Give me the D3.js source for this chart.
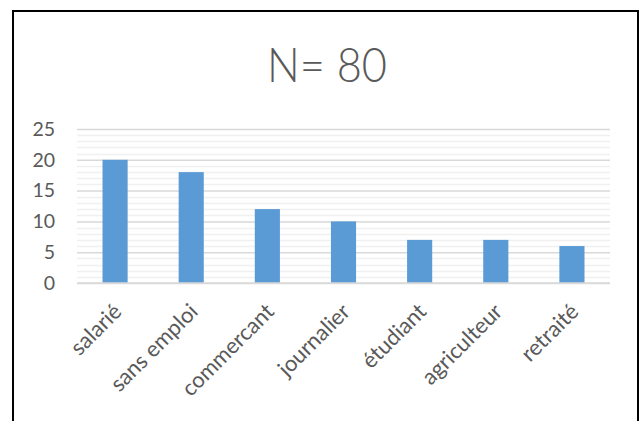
<!DOCTYPE html>
<html>
<head>
<meta charset="utf-8">
<script src="https://cdn.jsdelivr.net/npm/d3@7"></script>
<style>
  html, body { margin: 0; padding: 0; background: #fff; }
  svg { display: block; }
  text { font-family: Lato, "Open Sans", sans-serif; fill: #595959; }
</style>
</head>
<body>
<svg id="chart" width="640" height="421"></svg>
<script>
// Occupation counts, total N = 80
const categories = ["salarié", "sans emploi", "commercant", "journalier", "étudiant", "agriculteur", "retraité"];
const counts = [20, 18, 12, 10, 7, 7, 6];
const yTicks = [0, 5, 10, 15, 20, 25];
const titleText = "N= 80";

const svg = d3.select("#chart");
const W = 640, H = 421;

// Chart frame (open at the bottom edge of the window)
svg.append("path")
  .attr("d", `M13,${H + 2} L13,11 L638,11 L638,${H + 2}`)
  .attr("fill", "none")
  .attr("stroke", "#000")
  .attr("stroke-width", 2);

const plot = { left: 77, right: 610, top: 129, bottom: 283 };

const x = d3.scaleBand()
  .domain(categories)
  .range([plot.left, plot.right])
  .paddingInner(0.67)
  .paddingOuter(0.335);

const y = d3.scaleLinear()
  .domain([0, 25])
  .range([plot.bottom, plot.top]);

// Minor gridlines every unit
svg.append("g")
  .selectAll("line")
  .data(d3.range(0, 26).filter(v => v % 5 !== 0))
  .join("line")
  .attr("x1", plot.left).attr("x2", plot.right)
  .attr("y1", d => Math.round(y(d)) + 0.5)
  .attr("y2", d => Math.round(y(d)) + 0.5)
  .attr("stroke", "#f0f0f0")
  .attr("stroke-width", 1.5);

// Major gridlines and value labels
const yAxis = d3.axisLeft(y).tickValues(yTicks).tickSize(plot.left - plot.right).tickPadding(22);
const gy = svg.append("g")
  .attr("transform", `translate(${plot.left},0)`)
  .call(yAxis);
gy.select(".domain").remove();
gy.selectAll(".tick line")
  .attr("stroke", "#d9d9d9")
  .attr("stroke-width", 1.5);
gy.selectAll(".tick text")
  .attr("font-size", 19.5)
  .attr("fill", "#595959")
  .style("font-family", "Lato, 'Open Sans', sans-serif");

// Bars
svg.append("g")
  .selectAll("rect")
  .data(categories.map((c, i) => ({ c, v: counts[i] })))
  .join("rect")
  .attr("x", d => x(d.c))
  .attr("width", x.bandwidth())
  .attr("y", d => y(d.v))
  .attr("height", d => y(0) - y(d.v))
  .attr("fill", "#5b9bd5");

// Category axis with slanted labels
const xAxis = d3.axisBottom(x).tickSize(0).tickPadding(0);
const gx = svg.append("g")
  .attr("transform", `translate(0,${plot.bottom})`)
  .call(xAxis);
gx.select(".domain").remove();
gx.selectAll(".tick text")
  .attr("font-size", 22)
  .attr("fill", "#595959")
  .attr("text-anchor", "end")
  .attr("dy", 0)
  .attr("y", 0)
  .attr("transform", "translate(8,30) rotate(-45)")
  .style("font-family", "Lato, 'Open Sans', sans-serif");

// Baseline
svg.append("line")
  .attr("x1", plot.left).attr("x2", plot.right)
  .attr("y1", plot.bottom).attr("y2", plot.bottom)
  .attr("stroke", "#d9d9d9")
  .attr("stroke-width", 1.5);

// Title
svg.append("text")
  .attr("x", 327)
  .attr("y", 82)
  .attr("text-anchor", "middle")
  .attr("font-size", 47)
  .attr("font-weight", 300)
  .attr("textLength", 120)
  .attr("lengthAdjust", "spacingAndGlyphs")
  .attr("fill", "#595959")
  .text(titleText);
</script>
</body>
</html>
